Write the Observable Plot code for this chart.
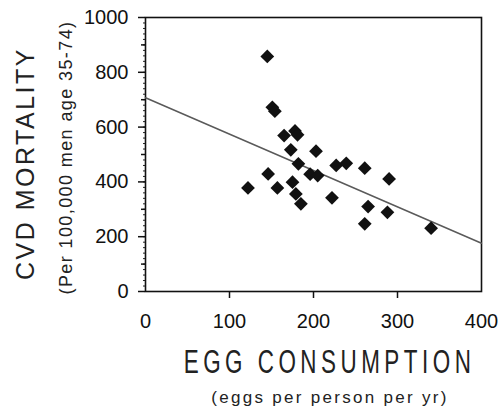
<!DOCTYPE html>
<html>
<head>
<meta charset="utf-8">
<script src="https://cdn.jsdelivr.net/npm/d3@7"></script>
<script src="https://cdn.jsdelivr.net/npm/@observablehq/plot@0.6"></script>
<style>
  html, body { margin: 0; padding: 0; background: #fff; }
  #chart svg { display: block; }
</style>
</head>
<body>
<div id="chart"></div>
<script>
// Egg consumption (eggs per person per yr) vs CVD mortality (per 100,000 men age 35-74)
const eggs      = [145, 151, 154, 165, 178, 181, 173, 203, 182, 196, 205, 227, 239, 261, 290, 146, 122, 157, 175, 179, 185, 222, 265, 288, 261, 340];
const mortality = [858, 672, 658, 569, 586, 572, 517, 512, 466, 428, 423, 460, 468, 450, 411, 429, 378, 378, 399, 356, 320, 342, 310, 289, 247, 231];

// fitted trend line at both ends of the x axis
const trendX = [0, 400];
const trendY = [707, 176];

const xTickLabels = [0, 100, 200, 300, 400];
const xTickMarks  = [100, 200, 300];
const yTickLabels = [0, 200, 400, 600, 800, 1000];
const yTickMid    = [100, 300, 500, 700, 900];
const yTickMinor  = d3.range(0, 1001, 20);

const yTitle = "CVD MORTALITY";
const ySubtitle = "(Per 100,000 men age 35-74)";
const xTitle = "EGG CONSUMPTION";
const xSubtitle = "(eggs per person per yr)";

const points = eggs.map((e, i) => ({eggs: e, mortality: mortality[i]}));
const trend = trendX.map((x, i) => ({x, y: trendY[i]}));

const titleFont = "'Liberation Sans', Arial, sans-serif";

const chart = Plot.plot({
  width: 501,
  height: 410,
  marginLeft: 145,
  marginRight: 20,
  marginTop: 17,
  marginBottom: 119,
  style: {background: "#fff", fontFamily: titleFont, color: "#111"},
  x: {domain: [0, 400]},
  y: {domain: [0, 1000]},
  marks: [
    Plot.axisY({ticks: yTickMinor, tickSize: 2, text: null, stroke: "#222"}),
    Plot.axisY({ticks: yTickMid, tickSize: 4, text: null, stroke: "#111", strokeWidth: 1.5}),
    Plot.axisY({ticks: yTickLabels, tickSize: 7, tickPadding: 10, fontSize: 20, stroke: "#111", strokeWidth: 1.5, fill: "#111", label: null, tickFormat: d => String(d)}),
    Plot.axisX({ticks: xTickMarks, tickSize: 7, text: null, stroke: "#111", strokeWidth: 1.5}),
    Plot.axisX({ticks: xTickLabels, tickSize: 0, tickPadding: 22, fontSize: 20, fill: "#111", label: null, tickFormat: d => String(d)}),
    Plot.frame({stroke: "#111", strokeWidth: 1.6}),
    Plot.line(trend, {x: "x", y: "y", stroke: "#5a5a5a", strokeWidth: 1.5}),
    Plot.dot(points, {x: "eggs", y: "mortality", symbol: "diamond2", r: 6.2, fill: "#111", stroke: "none"}),
    Plot.text([yTitle], {frameAnchor: "left", textAnchor: "middle", lineAnchor: "middle", dx: -120, dy: 9, rotate: -90, fontSize: 25, fill: "#222"}),
    Plot.text([ySubtitle], {frameAnchor: "left", textAnchor: "middle", lineAnchor: "middle", dx: -79, dy: 3, rotate: -90, fontSize: 18, fill: "#222"}),
    Plot.text([xTitle], {frameAnchor: "bottom", textAnchor: "middle", lineAnchor: "middle", dx: 16, dy: 70.5, fontSize: 33, fill: "#222"}),
    Plot.text([xSubtitle], {frameAnchor: "bottom", textAnchor: "middle", lineAnchor: "middle", dx: 16.5, dy: 105.6, fontSize: 17, fill: "#222"})
  ]
});

// spacing of the titles as seen in the picture; the big x title uses a condensed face
const spacing = new Map([[yTitle, 2.5], [ySubtitle, 1.4], [xTitle, 6.6], [xSubtitle, 2.3]]);
d3.select(chart).selectAll("text").each(function() {
  const t = this.textContent;
  if (spacing.has(t)) {
    const sel = d3.select(this);
    sel.style("letter-spacing", spacing.get(t) + "px");
    if (t === xTitle) {
      const tr = sel.attr("transform") || "";
      sel.attr("transform", tr + " scale(0.68,1)");
    }
  }
});

document.getElementById("chart").appendChild(chart);
</script>
</body>
</html>
